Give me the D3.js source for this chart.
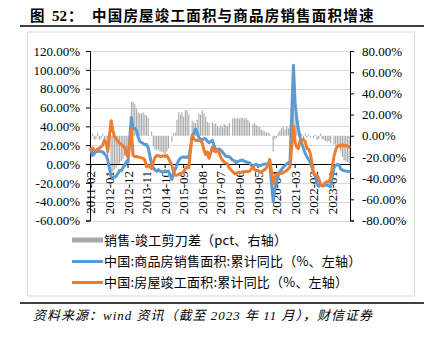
<!DOCTYPE html>
<html><head><meta charset="utf-8">
<script src="https://cdn.jsdelivr.net/npm/d3@7/dist/d3.min.js"></script>
<style>
html,body{margin:0;padding:0;background:#fff;}
svg{display:block;}
</style></head>
<body>
<svg id="c" width="433" height="340"></svg>
<script>
// ---- DATA ----
// Monthly categories 2011-02 .. 2023-11 (January cells empty in source data)
const startYear = 2011, endYear = 2023;
const categories = [];
for (let y = startYear; y <= endYear; y++) {
  for (let m = 1; m <= 12; m++) {
    if (y === 2011 && m < 2) continue;
    if (y === 2023 && m > 11) continue;
    categories.push(y + "-" + String(m).padStart(2, "0"));
  }
}
const xTickLabels = ["2011-02","2012-01","2012-12","2013-11","2014-10","2015-09","2016-08",
                     "2017-07","2018-06","2019-05","2020-04","2021-03","2022-02","2023-01"];
const leftTicks = [120,100,80,60,40,20,0,-20,-40,-60];
const rightTicks = [80,60,40,20,0,-20,-40,-60,-80];

// 中国:商品房销售面积:累计同比 (%) — left axis
const salesYoY = [
  16, 9, 11, 14, 13, 14, 13, 13, 11, 9, 4.4,                       // 2011 Feb-Dec
  null, -13.4, -14.2, -14.1, -13.0, -10.0, -7.0, -7.2, -4.0, -1.6, 2.4, 1.8,   // 2012
  null, 49.5, 37.5, 38.0, 35.6, 28.7, 24.0, 22.7, 21.9, 20.5, 20.8, 17.3,      // 2013
  null, -0.1, -3.8, -6.7, -7.8, -6.0, -7.6, -8.3, -8.6, -7.1, -8.2, -7.6,      // 2014
  null, -16.3, -9.2, -5.4, -1.0, 3.9, 6.1, 7.2, 7.5, 7.2, 7.4, 6.5,            // 2015
  null, 28.2, 33.1, 37.1, 33.2, 27.9, 26.4, 25.5, 26.9, 26.8, 24.3, 22.5,      // 2016
  null, 25.1, 19.5, 15.7, 14.3, 16.1, 14.7, 12.7, 10.3, 8.2, 7.9, 7.7,         // 2017
  null, 4.1, 3.6, 1.3, 2.9, 3.3, 4.2, 4.0, 2.9, 2.2, 1.4, 1.3,                 // 2018
  null, -3.6, -0.9, -0.3, -1.6, -1.8, -1.3, -0.6, -0.1, 0.1, 0.2, -0.1,        // 2019
  null, -39.9, -26.3, -19.3, -12.3, -8.4, -5.8, -3.3, -1.8, 0.0, 1.3, 2.6,     // 2020
  null, 104.9, 63.8, 48.1, 36.3, 27.7, 21.5, 15.9, 11.3, 7.5, 4.8, 1.9,        // 2021
  null, -9.6, -13.8, -20.9, -23.6, -22.2, -23.1, -23.0, -22.2, -22.3, -23.3, -24.3, // 2022
  null, -3.6, -1.8, -0.4, -0.9, -5.3, -6.5, -7.1, -7.5, -7.8, -8.0             // 2023 Feb-Nov
];
// 中国:房屋竣工面积:累计同比 (%) — left axis
const completionYoY = [
  15, 17, 14.6, 14, 16, 17, 18, 20, 25, 23, 13.3,
  null, 46, 36, 29, 27, 24, 22, 21, 19, 18, 11, 7.3,
  null, 37, 9, 8, 8, 7.5, 7, 6.5, 6, 4, -3, -1,
  null, -5, 2, 7, 9, 9, 8, 8, 9, 8, 9, 5.9,
  null, -1.5, -8, -12, -12, -11, -10, -10, -8, -5, -3, -4,
  null, 30.5, 27, 25, 25, 25, 25, 22, 15, 10, 12.8, 6.1,
  null, 18, 14, 13, 15, 12, 7, 4, 2, 1, 0, -4.4,
  null, -8, -10, -10, -9, -9, -9, -8.5, -8, -8, -8, -7.8,
  null, -3, -6, -7, -7, -8, -9, -7, -6, -4, 0, 5,
  null, -21, -14, -11, -10, -10, -10, -9, -8, -7, -5, -3,
  null, 40.4, 22.9, 17.9, 16.4, 25.7, 25.7, 26.0, 23.4, 16.3, 16.0, 11.2,
  null, -9.8, -11.5, -11.9, -15.3, -21.5, -23.3, -21.1, -19.9, -18.7, -19.0, -15.0,
  null, 8.0, 14.7, 18.8, 19.6, 19.0, 20.5, 19.2, 19.8, 19.0, 17.9
];
// 销售-竣工剪刀差 (pct) — right axis
const scissorGap = [
  -3, 2, -4, -3, 3, -4, -3, 2, -5, -10, -25,
  null, -36, -34, -32, -30, -28, -26, -24, -22, -19, -16, -14,
  null, 32, 32, 30, 26, 22, 21, 21, 22, 20, 19, 17,
  null, 4, -10, -13, -14, -13, -15, -15, -16, -18, -15, -12,
  null, -6, 2, 3, 15, 22, 20, 22, 18, 24, 24, 20,
  null, 14, 13, 12, 15, 21, 20, 24, 21, 18, 13, 12,
  null, 13, 11, 12, 9, 8, 10, 8, 11, 10, 9, 12,
  null, 16, 17, 16, 17, 16, 17, 17, 16, 17, 15, 13,
  null, 11, 12, 10, 9, 8, 6, 5, 4, 3, 3, 2,
  null, -15, -3, -2, 3, 5, 7, 8, 6, 9, 7, 10,
  null, 32, 27, 20, 3, -2, 2, -3, 2, -2, 1, -2,
  null, -2, 1, -4, -3, 2, -3, -4, -5, -6, -5, -7,
  null, -8, -10, -9, -12, -15, -20, -23, -24, -25, -26
];

const titleText = "中国房屋竣工面积与商品房销售面积增速";
const legendLabels = ["销售-竣工剪刀差（pct、右轴）", "中国:商品房销售面积:累计同比（%、左轴）", "中国:房屋竣工面积:累计同比（%、左轴）"];
const sourceText = "资料来源：wind 资讯（截至 2023 年 11 月），财信证券";

// ---- DRAW ----
const svg = d3.select("#c");
const colors = {bar: "#a9a9a9", blue: "#5b9bd5", orange: "#ed7d31"};
const plot = {left: 90, right: 350, top: 51, bottom: 220.5};
const serif = "'Liberation Serif','Times New Roman',serif";
const cjk = "'Noto Sans CJK SC','Noto Sans',sans-serif";

// title + rules
svg.append("text").attr("x", 30).attr("y", 20.5)
  .attr("font-family", cjk).attr("font-weight", 700).attr("font-size", 14.5)
  .text("图");
svg.append("text").attr("x", 52).attr("y", 20.5)
  .attr("font-family", serif).attr("font-weight", 700).attr("font-size", 15)
  .text("52");
svg.append("text").attr("x", 68).attr("y", 20.5)
  .attr("font-family", cjk).attr("font-weight", 700).attr("font-size", 14.5)
  .text("：");
svg.append("text").attr("x", 92).attr("y", 20.5)
  .attr("font-family", cjk).attr("font-weight", 700).attr("font-size", 14.5)
  .attr("letter-spacing", 1.2)
  .text(titleText);
svg.append("line").attr("x1", 20).attr("x2", 424).attr("y1", 26).attr("y2", 26)
  .attr("stroke", "#000").attr("stroke-width", 1.3);
svg.append("line").attr("x1", 20).attr("x2", 424).attr("y1", 303).attr("y2", 303)
  .attr("stroke", "#000").attr("stroke-width", 1.3);
// chart frame
svg.append("rect").attr("x", 27.5).attr("y", 32).attr("width", 387).attr("height", 264)
  .attr("fill", "none").attr("stroke", "#d9d9d9").attr("stroke-width", 1);

// scales
const x = d3.scaleBand().domain(categories).range([plot.left, plot.right]).padding(0);
const yL = d3.scaleLinear().domain([-60, 120]).range([plot.bottom, plot.top]);
const yR = d3.scaleLinear().domain([-80, 80]).range([plot.bottom, plot.top]);
const cx = c => x(c) + x.bandwidth() / 2;

// gridlines
svg.append("g").selectAll("line").data(leftTicks).join("line")
  .attr("x1", plot.left).attr("x2", plot.right)
  .attr("y1", d => Math.round(yL(d)) + 0.5).attr("y2", d => Math.round(yL(d)) + 0.5)
  .attr("stroke", "#d9d9d9").attr("stroke-width", 1);

// bars
const barData = categories.map((c, i) => ({c, v: scissorGap[i]})).filter(d => d.v != null);
svg.append("g").selectAll("rect").data(barData).join("rect")
  .attr("x", d => cx(d.c) - 0.55).attr("width", 1.1)
  .attr("y", d => Math.min(yR(d.v), yR(0)))
  .attr("height", d => Math.abs(yR(d.v) - yR(0)))
  .attr("fill", colors.bar);

// left axis
const leftAxis = d3.axisLeft(yL).tickValues(leftTicks).tickSize(4).tickPadding(6)
  .tickFormat(d => d.toFixed(2) + "%");
const gL = svg.append("g").attr("transform", `translate(${plot.left},0)`).call(leftAxis);
gL.select(".domain").attr("stroke", "#000");
gL.selectAll(".tick line").attr("stroke", "#000");
gL.selectAll("text").attr("font-family", serif).attr("font-size", 13).attr("fill", "#000");

// right axis
const rightAxis = d3.axisRight(yR).tickValues(rightTicks).tickSize(4).tickPadding(8)
  .tickFormat(d => d.toFixed(2) + "%");
const gR = svg.append("g").attr("transform", `translate(${plot.right},0)`).call(rightAxis);
gR.select(".domain").attr("stroke", "#000");
gR.selectAll(".tick line").attr("stroke", "#000");
gR.selectAll("text").attr("font-family", serif).attr("font-size", 13).attr("fill", "#000");

// category axis at left-axis zero
const y0 = yL(0);
const xAxis = d3.axisBottom(x).tickValues(xTickLabels).tickSize(4).tickSizeOuter(0).tickFormat(d => d);
const gX = svg.append("g").attr("transform", `translate(0,${y0})`).call(xAxis);
gX.select(".domain").attr("stroke", "#000");
gX.selectAll(".tick line").attr("stroke", "#000");
gX.selectAll("text")
  .attr("font-family", serif).attr("font-size", 13).attr("fill", "#000")
  .attr("text-anchor", "end")
  .attr("transform", "rotate(-90)")
  .attr("x", -7).attr("y", 0).attr("dy", "0.35em");

// lines
const lineGen = d3.line().x(d => cx(d.c)).y(d => yL(d.v));
const blueData = categories.map((c, i) => ({c, v: salesYoY[i]})).filter(d => d.v != null);
const orangeData = categories.map((c, i) => ({c, v: completionYoY[i]})).filter(d => d.v != null);
svg.append("path").datum(blueData).attr("d", lineGen)
  .attr("fill", "none").attr("stroke", colors.blue).attr("stroke-width", 3)
  .attr("stroke-linejoin", "round").attr("stroke-linecap", "round");
svg.append("path").datum(orangeData).attr("d", lineGen)
  .attr("fill", "none").attr("stroke", colors.orange).attr("stroke-width", 3)
  .attr("stroke-linejoin", "round").attr("stroke-linecap", "round");

// legend
const legendY = [240, 261.5, 282.5];
const legendColors = [colors.bar, colors.blue, colors.orange];
const legendWidths = [5, 3, 3];
const lg = svg.append("g");
legendLabels.forEach((t, i) => {
  lg.append("line").attr("x1", 72).attr("x2", 103).attr("y1", legendY[i]).attr("y2", legendY[i])
    .attr("stroke", legendColors[i]).attr("stroke-width", legendWidths[i]);
  lg.append("text").attr("x", 104).attr("y", legendY[i]).attr("dy", "0.36em")
    .attr("font-family", cjk).attr("font-size", 13).attr("letter-spacing", 0.2)
    .attr("fill", "#000").text(t);
});

// source
svg.append("text").attr("x", 33).attr("y", 320)
  .attr("font-family", "'Liberation Serif','Noto Sans CJK SC',serif")
  .attr("font-style", "italic").attr("font-size", 13).attr("letter-spacing", 1)
  .attr("fill", "#000")
  .text(sourceText);
</script>
</body></html>
